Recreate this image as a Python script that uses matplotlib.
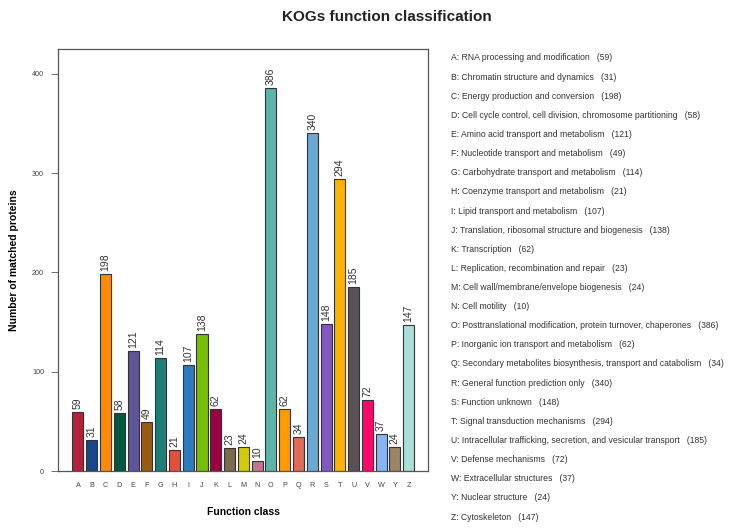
import matplotlib
matplotlib.use('Agg')
import matplotlib.pyplot as plt
import numpy as np

classes = ['A', 'B', 'C', 'D', 'E', 'F', 'G', 'H', 'I', 'J', 'K', 'L', 'M',
           'N', 'O', 'P', 'Q', 'R', 'S', 'T', 'U', 'V', 'W', 'Y', 'Z']
counts = [59, 31, 198, 58, 121, 49, 114, 21, 107, 138, 62, 23, 24,
          10, 386, 62, 34, 340, 148, 294, 185, 72, 37, 24, 147]
descriptions = [
    'RNA processing and modification',
    'Chromatin structure and dynamics',
    'Energy production and conversion',
    'Cell cycle control, cell division, chromosome partitioning',
    'Amino acid transport and metabolism',
    'Nucleotide transport and metabolism',
    'Carbohydrate transport and metabolism',
    'Coenzyme transport and metabolism',
    'Lipid transport and metabolism',
    'Translation, ribosomal structure and biogenesis',
    'Transcription',
    'Replication, recombination and repair',
    'Cell wall/membrane/envelope biogenesis',
    'Cell motility',
    'Posttranslational modification, protein turnover, chaperones',
    'Inorganic ion transport and metabolism',
    'Secondary metabolites biosynthesis, transport and catabolism',
    'General function prediction only',
    'Function unknown',
    'Signal transduction mechanisms',
    'Intracellular trafficking, secretion, and vesicular transport',
    'Defense mechanisms',
    'Extracellular structures',
    'Nuclear structure',
    'Cytoskeleton',
]
colors = ['#b4223a', '#16488a', '#ff8c00', '#00573f', '#5f5399', '#9b5a12',
          '#1b7f77', '#e0503a', '#2e7bbd', '#76c000', '#9b0042', '#7a6a4e',
          '#d2cc00', '#c47490', '#5cb4aa', '#ff9a00', '#df6b58', '#6aa9d4',
          '#8258c0', '#ffb300', '#585258', '#ff0868', '#88b3f4', '#9c8566',
          '#a8e0d8']

plt.rcParams['font.family'] = ['Liberation Sans', 'DejaVu Sans']

fig = plt.figure(figsize=(7.35, 5.29), dpi=100)
ax = fig.add_axes([0.0789, 0.1096, 0.5034, 0.7978])

x = np.arange(len(classes))
ax.bar(x, counts, width=0.8, color=colors, edgecolor='#333333', linewidth=0.8)
for xi, v in zip(x, counts):
    ax.text(xi, v + 3, str(v), rotation=90, ha='center', va='bottom',
            fontsize=7.5, color='#333333')

ax.set_xlim(-1.45, 25.4)
ax.set_ylim(0, 425)
ax.set_xticks(x)
ax.set_xticklabels(classes, fontsize=5.2, color='#444444')
ax.tick_params(axis='x', length=0, pad=8)
ax.set_yticks([0, 100, 200, 300, 400])
ax.tick_params(axis='y', labelsize=5.2, labelcolor='#444444', length=5,
               width=0.6, color='#555555', pad=5)
for s in ax.spines.values():
    s.set_color('#555555')
    s.set_linewidth(0.9)

ax.set_xlabel('Function class', fontsize=7.5, fontweight='bold', labelpad=13)
ax.set_ylabel('Number of matched proteins', fontsize=7.5, fontweight='bold', labelpad=9)

fig.text(0.527, 0.967, 'KOGs function classification', ha='center', va='center',
         fontsize=11, fontweight='bold', color='#222222')

y_top = 1 - 58 / 529
y_bot = 1 - 517 / 529
ys = np.linspace(y_top, y_bot, len(classes))
for c, d, n, yy in zip(classes, descriptions, counts, ys):
    fig.text(0.6136, yy, '%s: %s   (%d)' % (c, d, n), ha='left', va='center',
             fontsize=6.2, color='#333333')

fig.savefig('out.png', dpi=100)
